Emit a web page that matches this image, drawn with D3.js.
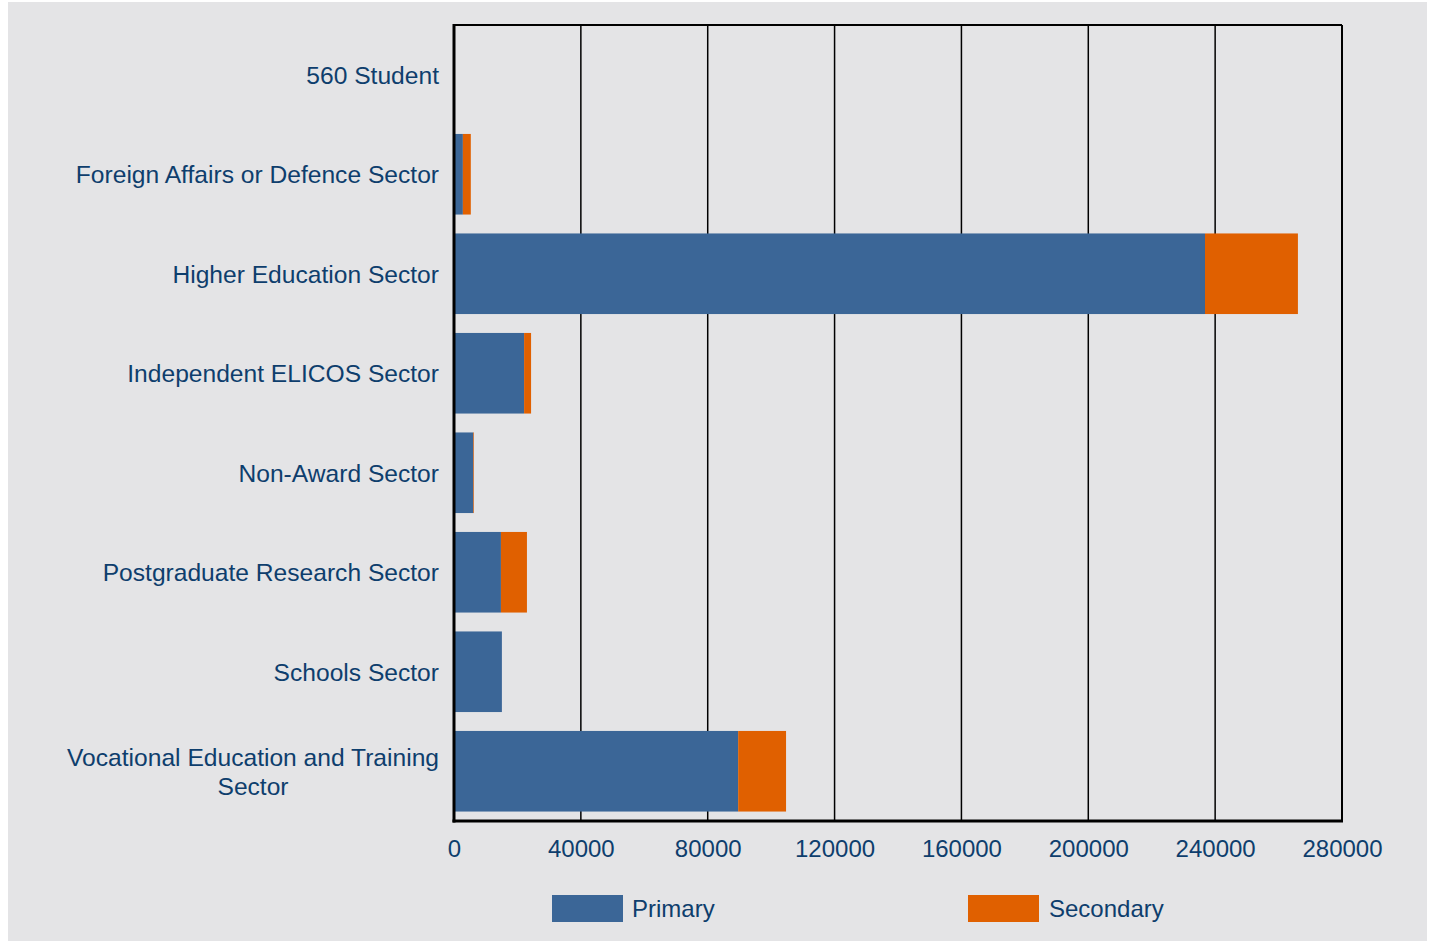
<!DOCTYPE html>
<html><head><meta charset="utf-8">
<script src="https://cdn.jsdelivr.net/npm/d3@7/dist/d3.min.js"></script>
<style>
html,body{margin:0;padding:0;background:#ffffff;}
svg{display:block;}
text{font-family:"Liberation Sans",Arial,sans-serif;}
</style></head>
<body>
<svg id="chart" width="1430" height="943"></svg>
<script>
const categories = ["560 Student","Foreign Affairs or Defence Sector","Higher Education Sector","Independent ELICOS Sector","Non-Award Sector","Postgraduate Research Sector","Schools Sector","Vocational Education and Training Sector"];
const primaryValues = [150, 2800, 236800, 22100, 6100, 14800, 15100, 89600];
const secondaryValues = [0, 2500, 29300, 2200, 200, 8200, 0, 15100];
const seriesNames = ["Primary","Secondary"];
const seriesColors = ["#3b6697","#e06000"];
const xTicks = [0,40000,80000,120000,160000,200000,240000,280000];

const svg = d3.select("#chart");
const m={left:454,right:1342,top:25,bottom:821};
const textColor="#0e3e6d";

svg.append("rect").attr("x",8).attr("y",2).attr("width",1419).attr("height",939).attr("fill","#e4e4e6");

const x=d3.scaleLinear().domain([0,280000]).range([m.left,m.right]);
const y=d3.scaleBand().domain(categories).range([m.top,m.bottom]).paddingInner(0.19).paddingOuter(0.095);

// gridlines
svg.append("g").selectAll("line").data(xTicks.slice(1,-1)).join("line")
  .attr("x1",d=>x(d)).attr("x2",d=>x(d)).attr("y1",m.top).attr("y2",m.bottom)
  .attr("stroke","#000").attr("stroke-width",1.5);

// stacked bars
const rows=categories.map((c,i)=>({cat:c,Primary:primaryValues[i],Secondary:secondaryValues[i]}));
const stack=d3.stack().keys(seriesNames)(rows);
svg.append("g").selectAll("g").data(stack).join("g")
  .attr("fill",(d,i)=>seriesColors[i])
  .selectAll("rect").data(d=>d).join("rect")
  .attr("x",d=>x(d[0])).attr("width",d=>Math.max(0,x(d[1])-x(d[0])))
  .attr("y",d=>y(d.data.cat)).attr("height",y.bandwidth());

// frame
svg.append("line").attr("x1",m.left).attr("x2",m.right).attr("y1",m.top).attr("y2",m.top).attr("stroke","#000").attr("stroke-width",2);
svg.append("line").attr("x1",m.right).attr("x2",m.right).attr("y1",m.top).attr("y2",m.bottom).attr("stroke","#000").attr("stroke-width",2);
svg.append("line").attr("x1",m.left).attr("x2",m.left).attr("y1",m.top-1).attr("y2",m.bottom+1.5).attr("stroke","#000").attr("stroke-width",3);
svg.append("line").attr("x1",m.left-1.5).attr("x2",m.right+1).attr("y1",m.bottom).attr("y2",m.bottom).attr("stroke","#000").attr("stroke-width",3);

// x axis labels
const xAxis=d3.axisBottom(x).tickValues(xTicks).tickSize(0).tickPadding(0).tickFormat(d3.format("d"));
const gx=svg.append("g").attr("transform",`translate(0,${m.bottom})`).call(xAxis);
gx.select(".domain").remove();
gx.selectAll("text").attr("font-size",24).attr("fill",textColor).attr("dy",null).attr("y",36)
  .style("font-family",'"Liberation Sans",Arial,sans-serif');

// y labels
const labelX=439;
const ylab=svg.append("g");
categories.forEach(c=>{
  const cy=y(c)+y.bandwidth()/2;
  const t=ylab.append("text").attr("font-size",24.6).attr("fill",textColor);
  if(c==="Vocational Education and Training Sector"){
    const lines=["Vocational Education and Training","Sector"];
    t.attr("text-anchor","middle");
    lines.forEach((l,i)=>t.append("tspan").text(l));
    const w=t.select("tspan").node().getComputedTextLength();
    const cx=labelX-w/2;
    t.selectAll("tspan").attr("x",cx).attr("y",(d,i)=>cy+9-14.5+i*29);
  } else {
    t.attr("text-anchor","end").attr("x",labelX).attr("y",cy+9).text(c);
  }
});

// legend
const legend=[{x:552,tx:632},{x:968,tx:1049}];
seriesNames.forEach((s,i)=>{
  svg.append("rect").attr("x",legend[i].x).attr("y",895).attr("width",71).attr("height",27).attr("fill",seriesColors[i]);
  svg.append("text").attr("x",legend[i].tx).attr("y",917).attr("font-size",24).attr("fill",textColor).text(s);
});
</script>
</body></html>
